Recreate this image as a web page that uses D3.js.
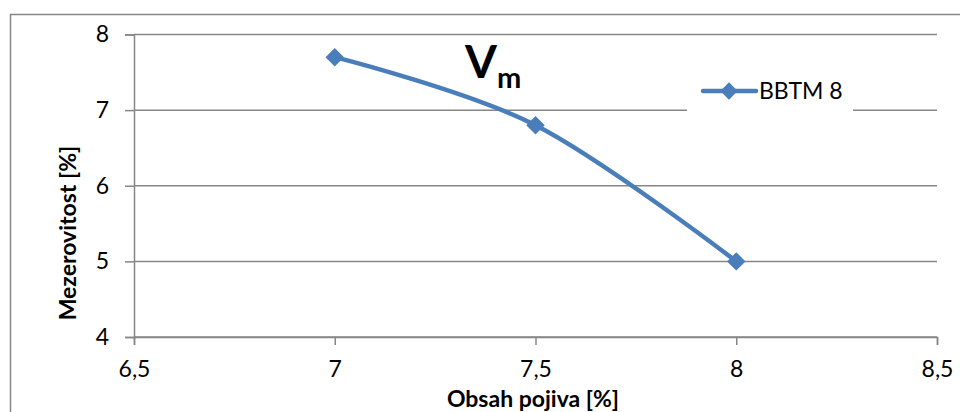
<!DOCTYPE html>
<html lang="cs">
<head>
<meta charset="UTF-8">
<script src="https://d3js.org/d3.v7.min.js"></script>
<style>
  body { margin: 0; background: #fff; }
  svg { display: block; font-family: Lato, "Open Sans", sans-serif; }
</style>
</head>
<body>
<svg id="chart" width="960" height="412"></svg>
<script>
// data
const obsahPojiva = [7, 7.5, 8];
const mezerovitost = [7.7, 6.8, 5.0];
const xTicks = [6.5, 7, 7.5, 8, 8.5];
const yTicks = [4, 5, 6, 7, 8];
const seriesName = "BBTM 8";

const blue = "#4a7ebb";
const gridGray = "#868686";

const svg = d3.select("#chart");

// outer chart border
svg.append("path")
    .attr("d", "M10.5,412 V14.5 H960")
    .attr("fill", "none")
    .attr("stroke", gridGray)
    .attr("stroke-width", 1.5);

const x = d3.scaleLinear().domain([6.5, 8.5]).range([134, 937]);
const y = d3.scaleLinear().domain([4, 8]).range([337, 34.5]);

const fmt = d => String(d).replace(".", ",");

// horizontal gridlines
svg.append("g")
    .selectAll("line")
    .data(yTicks)
    .join("line")
    .attr("x1", x(6.5))
    .attr("x2", x(8.5))
    .attr("y1", d => y(d))
    .attr("y2", d => y(d))
    .attr("stroke", gridGray)
    .attr("stroke-width", 1.5);

// y axis
const yAxis = svg.append("g")
    .attr("transform", `translate(${x(6.5)},0)`)
    .call(d3.axisLeft(y).tickValues(yTicks).tickSize(9).tickPadding(16).tickFormat(fmt));

// x axis
const xAxis = svg.append("g")
    .attr("transform", `translate(0,${y(4)})`)
    .call(d3.axisBottom(x).tickValues(xTicks).tickSize(8).tickPadding(16).tickFormat(fmt));

[yAxis, xAxis].forEach(a => {
    a.attr("font-size", null).attr("font-family", null);
    a.select(".domain").attr("stroke", gridGray).attr("stroke-width", 1.5);
    a.selectAll(".tick line").attr("stroke", gridGray).attr("stroke-width", 1.5);
    a.selectAll(".tick text")
        .attr("fill", "#000")
        .style("font-size", "23px");
});

// axis titles
svg.append("text")
    .attr("transform", `translate(76,233) rotate(-90)`)
    .attr("text-anchor", "middle")
    .style("font-size", "23px")
    .style("font-weight", "bold")
    .text("Mezerovitost [%]");

svg.append("text")
    .attr("x", 533)
    .attr("y", 407)
    .attr("text-anchor", "middle")
    .style("font-size", "23px")
    .style("font-weight", "bold")
    .text("Obsah pojiva [%]");

// chart title V_m
const title = svg.append("text")
    .attr("x", 465)
    .attr("y", 78)
    .style("font-weight", "bold");
title.append("tspan").style("font-size", "46px").text("V");
title.append("tspan").attr("dy", 10).style("font-size", "29px").text("m");

// legend box (white, covers gridline)
const legend = svg.append("g").attr("transform", "translate(687,72)");
legend.append("rect")
    .attr("width", 166)
    .attr("height", 40)
    .attr("fill", "#fff");
legend.append("line")
    .attr("x1", 16).attr("x2", 69)
    .attr("y1", 19).attr("y2", 19)
    .attr("stroke", blue)
    .attr("stroke-width", 4.5)
    .attr("stroke-linecap", "round");
legend.append("path")
    .attr("d", d3.symbol(d3.symbolSquare, 150)())
    .attr("transform", "translate(42,19) rotate(45)")
    .attr("fill", blue);
legend.append("text")
    .attr("x", 72)
    .attr("y", 27)
    .style("font-size", "23px")
    .text(seriesName);

// smoothed series line
const points = obsahPojiva.map((v, i) => [v, mezerovitost[i]]);
const line = d3.line()
    .x(d => x(d[0]))
    .y(d => y(d[1]))
    .curve(d3.curveCatmullRom.alpha(0));

svg.append("path")
    .datum(points)
    .attr("d", line)
    .attr("fill", "none")
    .attr("stroke", blue)
    .attr("stroke-width", 4.5)
    .attr("stroke-linecap", "round");

// diamond markers
svg.append("g")
    .selectAll("path")
    .data(points)
    .join("path")
    .attr("d", d3.symbol(d3.symbolSquare, 170)())
    .attr("transform", d => `translate(${x(d[0])},${y(d[1])}) rotate(45)`)
    .attr("fill", blue);
</script>
</body>
</html>
